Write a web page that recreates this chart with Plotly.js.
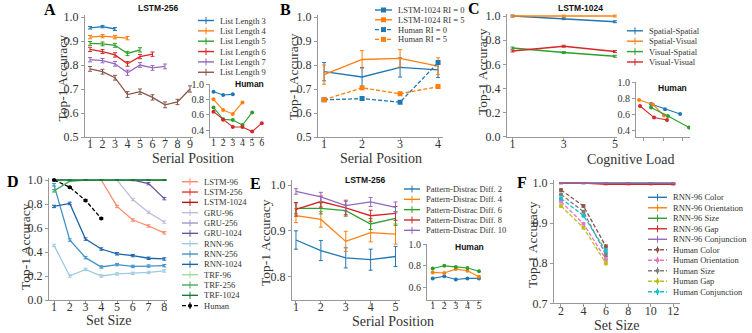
<!DOCTYPE html>
<html>
<head>
<meta charset="utf-8">
<script src="https://cdn.plot.ly/plotly-3.0.1.min.js"></script>
<style>html,body{margin:0;padding:0;background:#fff}#fig{width:752px;height:333px}</style>
</head>
<body>
<div id="fig"></div>
<script>
// values (six panels A-F)

// A: LSTM-256 accuracy by serial position, one line per list length
var serialA = [1, 2, 3, 4, 5, 6, 7, 8, 9];
var namesA = ['List Length 3', 'List Length 4', 'List Length 5', 'List Length 6', 'List Length 7', 'List Length 9'];
var accA3 = [0.955, 0.960, 0.950];
var accA4 = [0.916, 0.920, 0.916, 0.912];
var accA5 = [0.890, 0.888, 0.882, 0.848, 0.863];
var accA6 = [0.865, 0.856, 0.842, 0.805, 0.835, 0.845];
var accA7 = [0.822, 0.818, 0.805, 0.768, 0.800, 0.788, 0.794];
var accA9 = [0.784, 0.772, 0.747, 0.677, 0.689, 0.665, 0.634, 0.646, 0.700];
var errA3 = [0.005, 0.005, 0.006];
var errA4 = [0.007, 0.007, 0.007, 0.007];
var errA5 = [0.008, 0.008, 0.008, 0.009, 0.009];
var errA6 = [0.009, 0.008, 0.009, 0.010, 0.009, 0.009];
var errA7 = [0.009, 0.009, 0.010, 0.011, 0.010, 0.010, 0.010];
var errA9 = [0.010, 0.010, 0.010, 0.012, 0.011, 0.011, 0.012, 0.011, 0.013];
// A inset: human
var humA3 = [0.900, 0.857, 0.865];
var humA4 = [0.800, 0.660, 0.610, 0.760];
var humA5 = [0.695, 0.540, 0.530, 0.465, 0.630];
var humA6 = [0.640, 0.535, 0.440, 0.440, 0.380, 0.490];

// B: retro-cue / RI
var serialB = [1, 2, 3, 4];
var namesB = ['LSTM-1024 RI = 0', 'LSTM-1024 RI = 5', 'Human RI = 0', 'Human RI = 5'];
var lstmRI0 = [0.772, 0.750, 0.790, 0.780];
var lstmRI5 = [0.760, 0.823, 0.828, 0.795];
var errRI0 = [0.038, 0.040, 0.040, 0.032];
var errRI5 = [0.040, 0.037, 0.036, 0.035];
var humRI0 = [0.655, 0.660, 0.645, 0.810];
var humRI5 = [0.655, 0.705, 0.680, 0.710];

// C: LSTM-1024 vs cognitive load
var loadC = [1, 3, 5];
var namesC = ['Spatial-Spatial', 'Spatial-Visual', 'Visual-Spatial', 'Visual-Visual'];
var accSpSp = [1.000, 0.978, 0.953];
var accSpVi = [1.000, 1.000, 1.000];
var accViSp = [0.735, 0.697, 0.667];
var accViVi = [0.710, 0.750, 0.706];
var errC = [0.008, 0.008, 0.008];
// C inset: human (x positions as drawn)
var humLoadSpSp = [2.37, 3.11, 3.90];
var humLoadSpVi = [1.74, 2.47, 3.05];
var humLoadViSp = [2.37, 3.26, 4.37];
var humLoadViVi = [1.79, 2.53, 3.21];
var humSpSp = [0.725, 0.660, 0.600];
var humSpVi = [0.775, 0.720, 0.580];
var humViSp = [0.680, 0.575, 0.430];
var humViVi = [0.700, 0.555, 0.525];

// D: accuracy vs set size per model
var setD = [1, 2, 3, 4, 5, 6, 7, 8];
var namesD = ['LSTM-96', 'LSTM-256', 'LSTM-1024', 'GRU-96', 'GRU-256', 'GRU-1024',
              'RNN-96', 'RNN-256', 'RNN-1024', 'TRF-96', 'TRF-256', 'TRF-1024', 'Human'];
var lstm96 = [1, 1, 1, 1, 0.780, 0.667, 0.617, 0.560];
var lstm256 = [1, 1, 1, 1, 1, 0.997, 1, 1];
var lstm1024 = [1, 1, 1, 1, 1, 1, 1, 1];
var gru96 = [1, 1, 1, 1, 1, 0.837, 0.730, 0.650];
var gru256 = [1, 1, 1, 1, 1, 1, 1, 1];
var gru1024 = [1, 1, 1, 1, 1, 1, 0.970, 0.845];
var rnn96 = [0.455, 0.200, 0.255, 0.200, 0.217, 0.222, 0.230, 0.242];
var rnn256 = [0.960, 0.500, 0.353, 0.275, 0.295, 0.280, 0.283, 0.286];
var rnn1024 = [0.780, 0.805, 0.508, 0.425, 0.385, 0.370, 0.348, 0.342];
var trf96 = [0.990, 1, 1, 1, 1, 1, 1, 1];
var trf256 = [0.910, 0.990, 1, 1, 1, 1, 1, 1];
var trf1024 = [1, 1, 1, 1, 1, 1, 1, 1];
var setHumD = [1, 2, 3, 4];
var humD = [1.000, 0.940, 0.830, 0.680];

// E: LSTM-256 with pattern distractors
var serialE = [1, 2, 3, 4, 5];
var namesE = ['Pattern-Distrac Diff. 2', 'Pattern-Distrac Diff. 4', 'Pattern-Distrac Diff. 6',
              'Pattern-Distrac Diff. 8', 'Pattern-Distrac Diff. 10'];
var diff2 = [0.880, 0.857, 0.841, 0.837, 0.844];
var diff4 = [0.933, 0.925, 0.877, 0.896, 0.893];
var diff6 = [0.949, 0.949, 0.944, 0.915, 0.927];
var diff8 = [0.947, 0.964, 0.950, 0.933, 0.938];
var diff10 = [0.986, 0.974, 0.955, 0.963, 0.951];
var errD2 = [0.020, 0.022, 0.022, 0.023, 0.022];
var errD4 = [0.015, 0.017, 0.022, 0.020, 0.022];
var errD6 = [0.012, 0.012, 0.012, 0.012, 0.015];
var errD8 = [0.015, 0.012, 0.015, 0.012, 0.015];
var errD10 = [0.006, 0.010, 0.012, 0.010, 0.012];
// E inset: human
var humDiff2 = [0.685, 0.705, 0.675, 0.685, 0.685];
var humDiff4 = [0.740, 0.735, 0.770, 0.755, 0.700];
var humDiff6 = [0.775, 0.800, 0.790, 0.780, 0.750];

// F: visual search
var setF = [2, 4, 6, 8, 10, 12];
var setHumF = [2, 4, 6];
var namesF = ['RNN-96 Color', 'RNN-96 Orientation', 'RNN-96 Size', 'RNN-96 Gap', 'RNN-96 Conjunction',
              'Human Color', 'Human Orientation', 'Human Size', 'Human Gap', 'Human Conjunction'];
var rnnColor = [1, 1, 1, 1, 1, 1];
var rnnOrient = [1, 1, 1, 1, 0.999, 0.997];
var rnnSize = [1, 1, 1, 1, 1, 0.999];
var rnnGap = [1, 1, 0.997, 0.997, 0.997, 0.997];
var rnnConj = [1, 1, 1, 1, 1, 1];
var humColor = [0.983, 0.943, 0.842];
var humOrient = [0.954, 0.899, 0.810];
var humSize = [0.972, 0.929, 0.821];
var humGap = [0.943, 0.889, 0.800];
var humConj = [0.962, 0.919, 0.831];

var tab = ['#1f77b4', '#ff7f0e', '#2ca02c', '#d62728', '#9467bd', '#8c564b', '#e377c2', '#7f7f7f', '#bcbd22', '#17becf'];
var colD = ['#fc8a6a', '#e8392d', '#b11218', '#bcbddc', '#9e9ac8', '#6a51a3',
            '#9ecae1', '#4292c6', '#1c62aa', '#a1d99b', '#41ab5d', '#137a3a', '#000000'];

// ---- figure plumbing ----
var W = 752, H = 333;
function px(x) { return x / W; }
function py(y) { return 1 - y / H; }
var SERIF = 'Liberation Serif';

var layout = {
  width: W, height: H, margin: {l: 0, r: 0, t: 0, b: 0},
  showlegend: false, paper_bgcolor: '#fff', plot_bgcolor: 'rgba(0,0,0,0)',
  font: {family: SERIF, color: '#333'},
  shapes: [], annotations: []
};

// axes box in pixels (left, right, top, bottom) + data ranges
function addAxes(n, l, r, t, b, xr, yr, xt, yt, fs, xlabels) {
  var s = n === 1 ? '' : n;
  var common = {showline: true, linecolor: '#999', linewidth: 1, ticks: 'outside', ticklen: 3,
                tickwidth: 1, tickcolor: '#999', showgrid: false, zeroline: false, fixedrange: true,
                tickfont: {family: SERIF, size: fs, color: '#333'}};
  layout['xaxis' + s] = Object.assign({}, common, {domain: [px(l), px(r)], range: xr, anchor: 'y' + s,
    tickmode: 'array', tickvals: xt, showticklabels: xlabels !== false, ticklabelstandoff: -7});
  layout['yaxis' + s] = Object.assign({}, common, {domain: [py(b), py(t)], range: yr, anchor: 'x' + s,
    tickmode: 'array', tickvals: yt, ticktext: yt.map(function (v) { return v.toFixed(1); })});
}

addAxes(1, 85, 193, 14.6, 137, [0.6, 9.24], [0.5, 1.01], serialA, [0.5, 0.6, 0.7, 0.8, 0.9, 1.0], 12);
addAxes(2, 210, 264, 84, 137, [0.64, 6.23], [0.31, 1.0], [1, 2, 3, 4, 5, 6], [0.4, 0.6, 0.8, 1.0], 10);
addAxes(3, 318, 443, 14.6, 137, [0.84, 4.13], [0.5, 1.01], serialB, [0.5, 0.6, 0.7, 0.8, 0.9, 1.0], 12);
addAxes(4, 507, 617, 14, 136.7, [0.785, 5.08], [0, 1.017], loadC, [0, 0.2, 0.4, 0.6, 0.8, 1.0], 12);
addAxes(5, 636, 690, 82, 137, [1.58, 4.42], [0.3125, 1.0], [2, 3, 4], [0.4, 0.6, 0.8, 1.0], 10, false);
addAxes(6, 49, 167, 178, 300, [0.683, 8.17], [0, 1.017], setD, [0, 0.2, 0.4, 0.6, 0.8, 1.0], 12);
addAxes(7, 292, 400, 180, 300, [0.84, 5.18], [0.749, 1.011], serialE, [0.8, 0.9, 1.0], 12);
addAxes(8, 427, 482, 244, 300, [0.51, 5.26], [0.487, 1.0], serialE, [0.6, 0.8, 1.0], 10);
addAxes(9, 554, 680, 180, 303.3, [1.377, 12.6], [0.7, 1.008], setF, [0.7, 0.8, 0.9, 1.0], 12);

function tr(n, x, y, color, o) {
  o = o || {};
  var s = n === 1 ? '' : n;
  var t = {type: 'scatter', x: x, y: y, xaxis: 'x' + s, yaxis: 'y' + s, hoverinfo: 'skip',
           mode: o.sym ? 'lines+markers' : 'lines',
           line: {color: color, width: o.w || 1.3, dash: o.dash || 'solid'}};
  if (o.err) t.error_y = {type: 'data', array: o.err, visible: true, color: color, thickness: 1, width: 2};
  if (o.sym) t.marker = {symbol: o.sym, size: o.size || 4, color: color};
  return t;
}

var data = [];
// A
[accA3, accA4, accA5, accA6, accA7, accA9].forEach(function (a, i) {
  var e = [errA3, errA4, errA5, errA6, errA7, errA9][i];
  data.push(tr(1, serialA.slice(0, a.length), a, tab[i], {err: e}));
});
[humA3, humA4, humA5, humA6].forEach(function (a, i) {
  data.push(tr(2, serialA.slice(0, a.length), a, tab[i], {sym: 'circle', size: 4, w: 1.1}));
});
// B
data.push(tr(3, serialB, lstmRI0, tab[0], {err: errRI0}));
data.push(tr(3, serialB, lstmRI5, tab[1], {err: errRI5}));
data.push(tr(3, serialB, humRI0, tab[0], {sym: 'square', size: 5, dash: '4px,2px'}));
data.push(tr(3, serialB, humRI5, tab[1], {sym: 'square', size: 5, dash: '4px,2px'}));
// C
[accSpSp, accSpVi, accViSp, accViVi].forEach(function (a, i) {
  data.push(tr(4, loadC, a, tab[i], {err: errC, w: 1.5}));
});
[[humLoadSpSp, humSpSp], [humLoadSpVi, humSpVi], [humLoadViSp, humViSp], [humLoadViVi, humViVi]].forEach(function (p, i) {
  data.push(tr(5, p[0], p[1], tab[i], {sym: 'circle', size: 4, w: 1.1}));
});
// D
[lstm96, lstm256, lstm1024, gru96, gru256, gru1024, rnn96, rnn256, rnn1024, trf96, trf256, trf1024].forEach(function (a, i) {
  var e = a.map(function (v) { return v < 0.99 ? 0.01 : 0.003; });
  data.push(tr(6, setD, a, colD[i], {err: e, w: 1.3}));
});
data.push(tr(6, setHumD, humD, '#000', {sym: 'circle', size: 4, dash: '4px,2px', err: [0.004, 0.006, 0.008, 0.008]}));
// E
[[diff2, errD2], [diff4, errD4], [diff6, errD6], [diff8, errD8], [diff10, errD10]].forEach(function (p, i) {
  data.push(tr(7, serialE, p[0], tab[i], {err: p[1]}));
});
[humDiff2, humDiff4, humDiff6].forEach(function (a, i) {
  data.push(tr(8, serialE, a, tab[i], {sym: 'circle', size: 4, w: 1.1}));
});
// F
[rnnColor, rnnOrient, rnnSize, rnnGap, rnnConj].forEach(function (a, i) {
  data.push(tr(9, setF, a, tab[i], {err: [0.001, 0.001, 0.001, 0.001, 0.001, 0.001]}));
});
[humColor, humOrient, humSize, humGap, humConj].forEach(function (a, i) {
  data.push(tr(9, setHumF, a, tab[5 + i], {sym: 'circle', size: 4, dash: '4px,2px', err: [0.003, 0.003, 0.004]}));
});

// ---- text ----
function note(x, y, text, o) {
  o = o || {};
  layout.annotations.push({xref: 'paper', yref: 'paper', x: px(x), y: py(y), text: text, showarrow: false,
    xanchor: o.xa || 'center', yanchor: 'middle', textangle: o.rot || 0,
    font: {family: o.fam || SERIF, size: o.size || 13, color: o.color || '#333'}});
}
// panel letters
[['A', 50, 10], ['B', 285, 10], ['C', 474, 9], ['D', 13, 181], ['E', 255, 183], ['F', 522, 182]].forEach(function (p) {
  note(p[1], p[2], '<b>' + p[0] + '</b>', {size: 16, color: '#000'});
});
// panel titles
[['LSTM-256', 158, 8], ['LSTM-1024', 580, 8], ['LSTM-256', 365, 180],
 ['Human', 249, 84], ['Human', 672, 88], ['Human', 469, 247]].forEach(function (p) {
  note(p[1], p[2], '<b>' + p[0] + '</b>', {fam: 'Liberation Sans', size: 8.5, color: '#111'});
});
// axis titles
[[62, 77.5], [293, 77], [482, 72], [25, 247], [265, 243], [532, 245]].forEach(function (p) {
  note(p[0], p[1], 'Top-1 Accuracy', {rot: -90, size: 13.5});
});
[['Serial Position', 193, 158], ['Serial Position', 381, 158], ['Cognitive Load', 631, 159],
 ['Set Size', 109, 320], ['Serial Position', 393, 321], ['Set Size', 617, 325]].forEach(function (p) {
  note(p[1], p[2], p[0], {size: 14});
});

// ---- hand-built legends (matplotlib style rows) ----
function legend(names, colors, x0, y0, dy, len, styleOf) {
  names.forEach(function (nm, i) {
    var y = y0 + i * dy, c = colors[i], st = styleOf(i), xm = x0 + len / 2;
    layout.shapes.push({type: 'line', xref: 'paper', yref: 'paper', x0: px(x0), x1: px(x0 + len),
      y0: py(y), y1: py(y), line: {color: c, width: 1.4, dash: st.dash ? '4px,2px' : 'solid'}});
    if (st.bar) layout.shapes.push({type: 'line', xref: 'paper', yref: 'paper', x0: px(xm), x1: px(xm),
      y0: py(y - 3.5), y1: py(y + 3.5), line: {color: c, width: 1}});
    if (st.sq) layout.shapes.push({type: 'rect', xref: 'paper', yref: 'paper', x0: px(xm - 2.5), x1: px(xm + 2.5),
      y0: py(y - 2.5), y1: py(y + 2.5), fillcolor: c, line: {width: 0}});
    if (st.dot) layout.shapes.push({type: 'circle', xref: 'paper', yref: 'paper', x0: px(xm - 2), x1: px(xm + 2),
      y0: py(y - 2), y1: py(y + 2), fillcolor: c, line: {width: 0}});
    note(x0 + len + 4, y, nm, {xa: 'left', size: 8.5});
  });
}
legend(namesA, tab, 198, 20.5, 10.35, 16, function () { return {bar: true}; });
legend(namesB, [tab[0], tab[1], tab[0], tab[1]], 375, 10, 9.8, 17, function (i) { return {sq: true, dash: i > 1}; });
legend(namesC, tab, 627, 30.8, 10.4, 16, function () { return {bar: true}; });
legend(namesD, colD, 182, 181.7, 10.33, 16, function (i) { return i === 12 ? {bar: true, dot: true, dash: true} : {bar: true}; });
legend(namesE, tab, 404, 189, 10.33, 16, function () { return {bar: true}; });
legend(namesF, tab, 648, 197.3, 10.49, 19, function (i) { return i > 4 ? {bar: true, dot: true, dash: true} : {bar: true}; });

Plotly.newPlot('fig', data, layout, {staticPlot: true, displayModeBar: false});
</script>
</body>
</html>
